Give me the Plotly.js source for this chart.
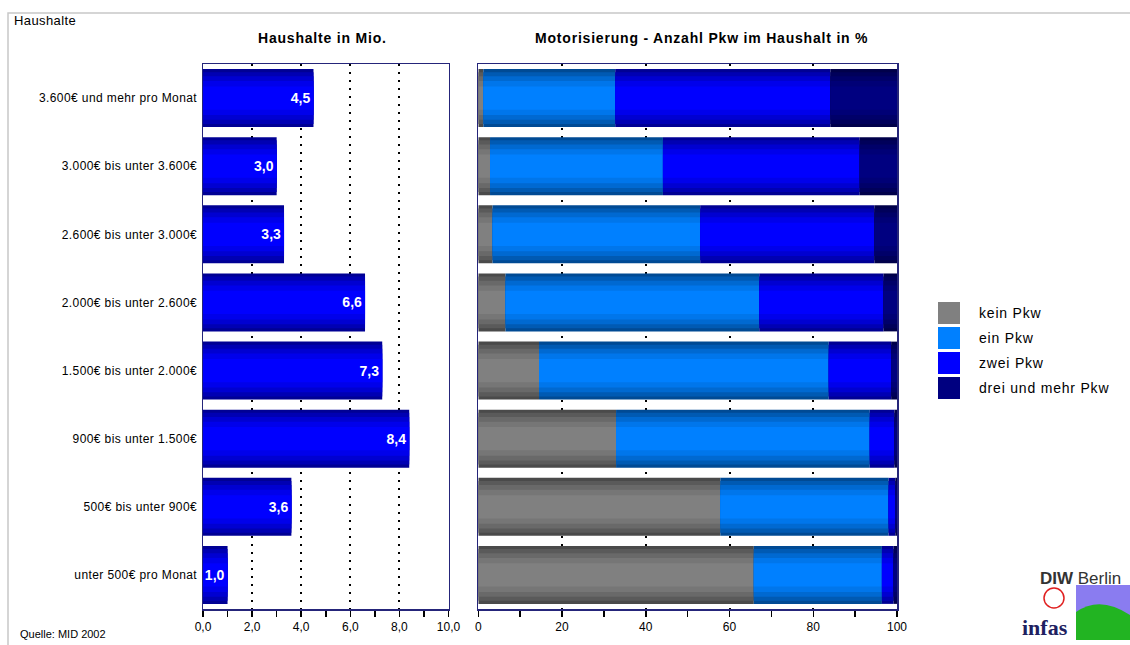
<!DOCTYPE html>
<html>
<head>
<meta charset="utf-8">
<script src="https://cdn.plot.ly/plotly-3.0.1.min.js"></script>
<style>
html,body{margin:0;padding:0;background:#fff;}
#chart{width:1130px;height:645px;}
#chart .ytick text{letter-spacing:0.4px;}
</style>
</head>
<body>
<div id="chart"></div>
<script>
// ---- data (top to bottom) ----
const categories = [
  "3.600€ und mehr pro Monat",
  "3.000€ bis unter 3.600€",
  "2.600€ bis unter 3.000€",
  "2.000€ bis unter 2.600€",
  "1.500€ bis unter 2.000€",
  "900€ bis unter 1.500€",
  "500€ bis unter 900€",
  "unter 500€ pro Monat"
];
const households = [4.5, 3.0, 3.3, 6.6, 7.3, 8.4, 3.6, 1.0];
const keinPkw = [1.2, 2.8, 3.4, 6.5, 14.5, 32.9, 57.8, 65.8];
const einPkw  = [31.5, 41.3, 49.6, 60.6, 69.2, 60.6, 40.2, 30.6];
const zweiPkw = [51.4, 47.0, 41.6, 29.7, 14.9, 5.9, 1.6, 2.8];
const dreiPkw = [15.9, 8.9, 5.4, 3.2, 1.4, 0.6, 0.4, 0.8];
const seriesNames = ["kein Pkw", "ein Pkw", "zwei Pkw", "drei und mehr Pkw"];
const seriesValues = [keinPkw, einPkw, zweiPkw, dreiPkw];
const seriesColors = ["#808080", "#0080ff", "#0000ff", "#000080"];
const leftTitle = "Haushalte in Mio.";
const rightTitle = "Motorisierung - Anzahl Pkw im Haushalt in %";

// ---- styling helpers ----
const FONT = "Liberation Sans, Arial, sans-serif";
const layers = [
  {w: 0.85, f: 0.58}, {w: 0.76, f: 0.70}, {w: 0.64, f: 0.82},
  {w: 0.50, f: 0.92}, {w: 0.34, f: 1.0}
];
function shade(hex, f) {
  const r = parseInt(hex.slice(1,3),16), g = parseInt(hex.slice(3,5),16), b = parseInt(hex.slice(5,7),16);
  return "rgb(" + Math.round(r*f) + "," + Math.round(g*f) + "," + Math.round(b*f) + ")";
}
function spaced(t, s) { return '<span style="letter-spacing:' + s + 'px">' + t + '</span>'; }

const traces = [];
// left chart: households
layers.forEach(L => {
  traces.push({
    type: "bar", orientation: "h", y: categories, x: households,
    width: L.w, marker: {color: shade("#0000ff", L.f), line: {width: 0}},
    xaxis: "x", yaxis: "y", hoverinfo: "skip", showlegend: false
  });
});
traces.push({
  type: "bar", orientation: "h", y: categories, x: households, width: 0.85,
  marker: {color: "rgba(0,0,0,0)", line: {width: 0}},
  texttemplate: "%{x:.1f}", textposition: "inside", insidetextanchor: "end", textangle: 0,
  textfont: {family: FONT, size: 14, color: "#ffffff", weight: "bold"},
  constraintext: "none", cliponaxis: false,
  xaxis: "x", yaxis: "y", hoverinfo: "skip", showlegend: false
});

// right chart: stacked shares, built with explicit bases
const cumul = categories.map(() => 0);
seriesValues.forEach((vals, si) => {
  const bases = cumul.slice();
  layers.forEach(L => {
    traces.push({
      type: "bar", orientation: "h", y: categories, x: vals, base: bases,
      width: L.w, marker: {color: shade(seriesColors[si], L.f), line: {width: 0}},
      name: seriesNames[si], xaxis: "x2", yaxis: "y2", hoverinfo: "skip", showlegend: false
    });
  });
  vals.forEach((v, i) => { cumul[i] += v; });
});

// ---- layout ----
const W = 1130, H = 645;
const px = x => x / W, py = y => 1 - y / H;
const axisLine = "#25257a";

const shapes = [
  {type: "rect", xref: "paper", yref: "paper", x0: px(8), x1: px(1140), y0: py(13), y1: py(660),
   line: {color: "#c8c8c8", width: 1.5}, fillcolor: "rgba(0,0,0,0)", layer: "below"}
];
const annotations = [
  {text: spaced("Haushalte", 0.4), x: px(12), y: py(20), xref: "paper", yref: "paper", xanchor: "left", yanchor: "middle",
   showarrow: false, font: {family: FONT, size: 13, color: "#000"}},
  {text: spaced(leftTitle, 0.8), x: px(322), y: py(38), xref: "paper", yref: "paper", xanchor: "center", yanchor: "middle",
   showarrow: false, font: {family: FONT, size: 14, color: "#000", weight: "bold"}},
  {text: spaced(rightTitle, 0.8), x: px(701), y: py(38), xref: "paper", yref: "paper", xanchor: "center", yanchor: "middle",
   showarrow: false, font: {family: FONT, size: 14, color: "#000", weight: "bold"}},
  {text: "Quelle: MID 2002", x: px(18), y: py(634), xref: "paper", yref: "paper", xanchor: "left", yanchor: "middle",
   showarrow: false, font: {family: FONT, size: 11, color: "#000"}}
];
// custom legend
seriesNames.forEach((n, i) => {
  const top = 302 + i * 25;
  shapes.push({type: "rect", xref: "paper", yref: "paper", x0: px(938), x1: px(960), y0: py(top), y1: py(top + 22),
    fillcolor: seriesColors[i], line: {width: 0}});
  annotations.push({text: spaced(n, 0.8), x: px(977), y: py(top + 11), xref: "paper", yref: "paper", xanchor: "left", yanchor: "middle",
    showarrow: false, font: {family: FONT, size: 14, color: "#000"}});
});
// logo approximation
shapes.push({type: "rect", xref: "paper", yref: "paper", x0: px(1076), x1: px(1130), y0: py(585), y1: py(640),
  fillcolor: "#8a7cf0", line: {width: 0}});
shapes.push({type: "path", xref: "paper", yref: "paper",
  path: "M " + px(1076) + "," + py(612) + " Q " + px(1100) + "," + py(595) + " " + px(1130) + "," + py(615) +
        " L " + px(1130) + "," + py(640) + " L " + px(1076) + "," + py(640) + " Z",
  fillcolor: "#22b422", line: {width: 0}});
shapes.push({type: "circle", xref: "paper", yref: "paper", x0: px(1044), x1: px(1064), y0: py(588), y1: py(608),
  fillcolor: "#fff", line: {color: "#e02020", width: 1.5}});
annotations.push({text: "<b>DIW</b> Berlin", x: px(1038), y: py(578), xref: "paper", yref: "paper", xanchor: "left", yanchor: "middle",
  showarrow: false, font: {family: FONT, size: 17, color: "#333"}});
annotations.push({text: "<b>infas</b>", x: px(1020), y: py(627), xref: "paper", yref: "paper", xanchor: "left", yanchor: "middle",
  showarrow: false, font: {family: "Liberation Serif, serif", size: 22, color: "#202060"}});

const layout = {
  width: W, height: H,
  margin: {l: 0, r: 0, t: 0, b: 0},
  paper_bgcolor: "#fff", plot_bgcolor: "#fff",
  barmode: "overlay",
  separators: ",.",
  showlegend: false,
  uniformtext: {mode: "show", minsize: 14},
  font: {family: FONT, size: 12, color: "#000"},
  xaxis: {
    domain: [px(203), px(448.5)], range: [0, 10], tickvals: [0, 2, 4, 6, 8, 10], tickformat: ".1f",
    showgrid: true, gridcolor: "#000", gridwidth: 2, griddash: "2px,6px",
    showline: true, linecolor: axisLine, linewidth: 1.5, mirror: true, zeroline: false,
    ticks: "outside", ticklen: 6, tickcolor: "#000", tickwidth: 1.5,
    minor: {dtick: 1, ticks: "outside", ticklen: 6, tickcolor: "#000", tickwidth: 1.5, showgrid: false},
    tickfont: {family: FONT, size: 12}, anchor: "y", fixedrange: true
  },
  yaxis: {
    domain: [py(609), py(64)], type: "category", autorange: "reversed", anchor: "x",
    showline: true, linecolor: axisLine, linewidth: 1.5, mirror: true, showgrid: false, zeroline: false,
    ticks: "", ticklabelstandoff: 2, tickfont: {family: FONT, size: 12}
  },
  xaxis2: {
    domain: [px(478.3), px(897)], range: [0, 100], tickvals: [0, 20, 40, 60, 80, 100],
    showgrid: true, gridcolor: "#000", gridwidth: 2, griddash: "2px,6px",
    showline: true, linecolor: axisLine, linewidth: 1.5, mirror: true, zeroline: false,
    ticks: "outside", ticklen: 6, tickcolor: "#000", tickwidth: 1.5,
    minor: {dtick: 10, ticks: "outside", ticklen: 6, tickcolor: "#000", tickwidth: 1.5, showgrid: false},
    tickfont: {family: FONT, size: 12}, anchor: "y2", fixedrange: true
  },
  yaxis2: {
    domain: [py(609), py(64)], type: "category", autorange: "reversed", anchor: "x2",
    showline: true, linecolor: axisLine, linewidth: 1.5, mirror: true, showgrid: false, zeroline: false,
    showticklabels: false, ticks: ""
  },
  shapes: shapes,
  annotations: annotations
};

Plotly.newPlot("chart", traces, layout, {staticPlot: true, displayModeBar: false});
</script>
</body>
</html>
